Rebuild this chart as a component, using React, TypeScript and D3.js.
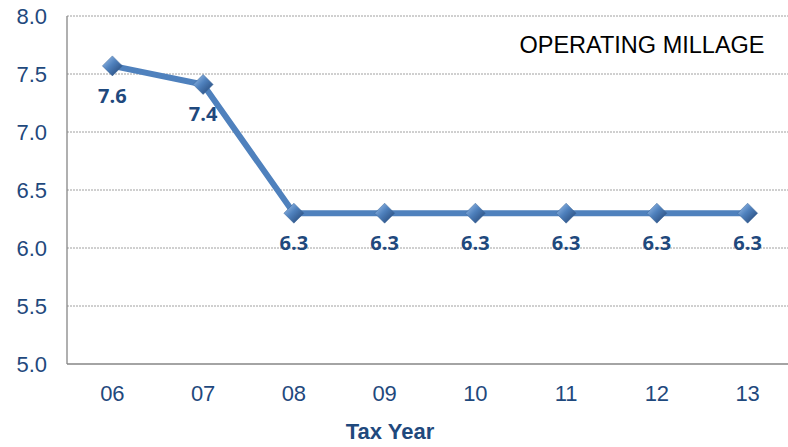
import { useEffect, useRef } from 'react'
import * as d3 from 'd3'

const years = ['06', '07', '08', '09', '10', '11', '12', '13']
const millage = [7.57, 7.41, 6.3, 6.3, 6.3, 6.3, 6.3, 6.3]
const yTicks = [5.0, 5.5, 6.0, 6.5, 7.0, 7.5, 8.0]

export default function App() {
  const svgRef = useRef<SVGSVGElement>(null)

  useEffect(() => {
    if (!svgRef.current) return
    const W = 788
    const H = 447
    const margin = { top: 16, right: -5, bottom: 83, left: 67 }
    const iw = W - margin.left - margin.right
    const ih = H - margin.top - margin.bottom
    const blue = '#1F497D'
    const arial = 'Liberation Sans, Arial, sans-serif'

    d3.select(svgRef.current).selectAll('*').remove()
    const svg = d3.select(svgRef.current)
    svg.append('defs').html(`
      <linearGradient id="dia" x1="0" y1="0" x2="1" y2="1">
        <stop offset="0" stop-color="#a7c8f0"/>
        <stop offset="0.45" stop-color="#4f81bd"/>
        <stop offset="1" stop-color="#1f3f6e"/>
      </linearGradient>`)

    const g = svg.append('g').attr('transform', `translate(${margin.left},${margin.top})`)

    const x = d3.scaleBand().domain(years).range([0, iw])
    const y = d3.scaleLinear().domain([5, 8]).range([ih, 0])
    const cx = (d: string) => x(d)! + x.bandwidth() / 2

    // grid
    g.selectAll('.grid')
      .data(yTicks.filter(t => t > 5))
      .enter()
      .append('line')
      .attr('x1', 0)
      .attr('x2', iw)
      .attr('y1', d => y(d))
      .attr('y2', d => y(d))
      .attr('stroke', '#a0a0a0')
      .attr('stroke-width', 1)
      .attr('stroke-dasharray', '2,1')

    // axis lines
    g.append('line').attr('x1', 0).attr('x2', 0).attr('y1', 0).attr('y2', ih)
      .attr('stroke', '#868686').attr('stroke-width', 1.3)
    g.append('line').attr('x1', 0).attr('x2', iw).attr('y1', ih).attr('y2', ih)
      .attr('stroke', '#868686').attr('stroke-width', 1.3)

    // y tick labels
    g.selectAll('.yl')
      .data(yTicks)
      .enter()
      .append('text')
      .attr('x', -20)
      .attr('y', d => y(d))
      .attr('dy', '0.35em')
      .attr('text-anchor', 'end')
      .attr('font-family', arial)
      .attr('font-size', 22)
      .attr('fill', blue)
      .text(d => d.toFixed(1))

    // x tick labels
    g.selectAll('.xl')
      .data(years)
      .enter()
      .append('text')
      .attr('x', d => cx(d))
      .attr('y', ih + 29)
      .attr('dy', '0.35em')
      .attr('text-anchor', 'middle')
      .attr('font-family', arial)
      .attr('font-size', 22)
      .attr('fill', blue)
      .text(d => d)

    // axis title
    svg.append('text')
      .attr('x', 390)
      .attr('y', 431)
      .attr('dy', '0.35em')
      .attr('text-anchor', 'middle')
      .attr('font-family', arial)
      .attr('font-size', 22)
      .attr('font-weight', 'bold')
      .attr('fill', blue)
      .text('Tax Year')

    svg.append('text')
      .attr('x', 642)
      .attr('y', 45)
      .attr('dy', '0.35em')
      .attr('text-anchor', 'middle')
      .attr('font-family', arial)
      .attr('font-size', 23.5)
      .attr('fill', '#000')
      .text('OPERATING MILLAGE')

    const pts = years.map((d, i) => ({ year: d, v: millage[i] }))

    g.append('path')
      .datum(pts)
      .attr('fill', 'none')
      .attr('stroke', '#4F81BD')
      .attr('stroke-width', 6)
      .attr('stroke-linejoin', 'round')
      .attr('d', d3.line<{ year: string; v: number }>().x(d => cx(d.year)).y(d => y(d.v)))

    const s = 10
    g.selectAll('.dia')
      .data(pts)
      .enter()
      .append('path')
      .attr('d', d => {
        const px = cx(d.year)
        const py = y(d.v)
        return `M${px},${py - s}L${px + s},${py}L${px},${py + s}L${px - s},${py}Z`
      })
      .attr('fill', 'url(#dia)')
      .attr('stroke', '#3a6596')
      .attr('stroke-width', 0.5)

    g.selectAll('.lbl')
      .data(pts)
      .enter()
      .append('text')
      .attr('x', d => cx(d.year))
      .attr('y', d => y(d.v) + 30)
      .attr('dy', '0.35em')
      .attr('text-anchor', 'middle')
      .attr('font-family', 'Open Sans, sans-serif')
      .attr('font-size', 20)
      .attr('font-weight', 'bold')
      .attr('fill', blue)
      .text(d => d.v.toFixed(1))
  }, [])

  return (
    <svg
      ref={svgRef}
      width={788}
      height={447}
      style={{ position: 'absolute', left: 0, top: 0, background: '#fff' }}
    />
  )
}
